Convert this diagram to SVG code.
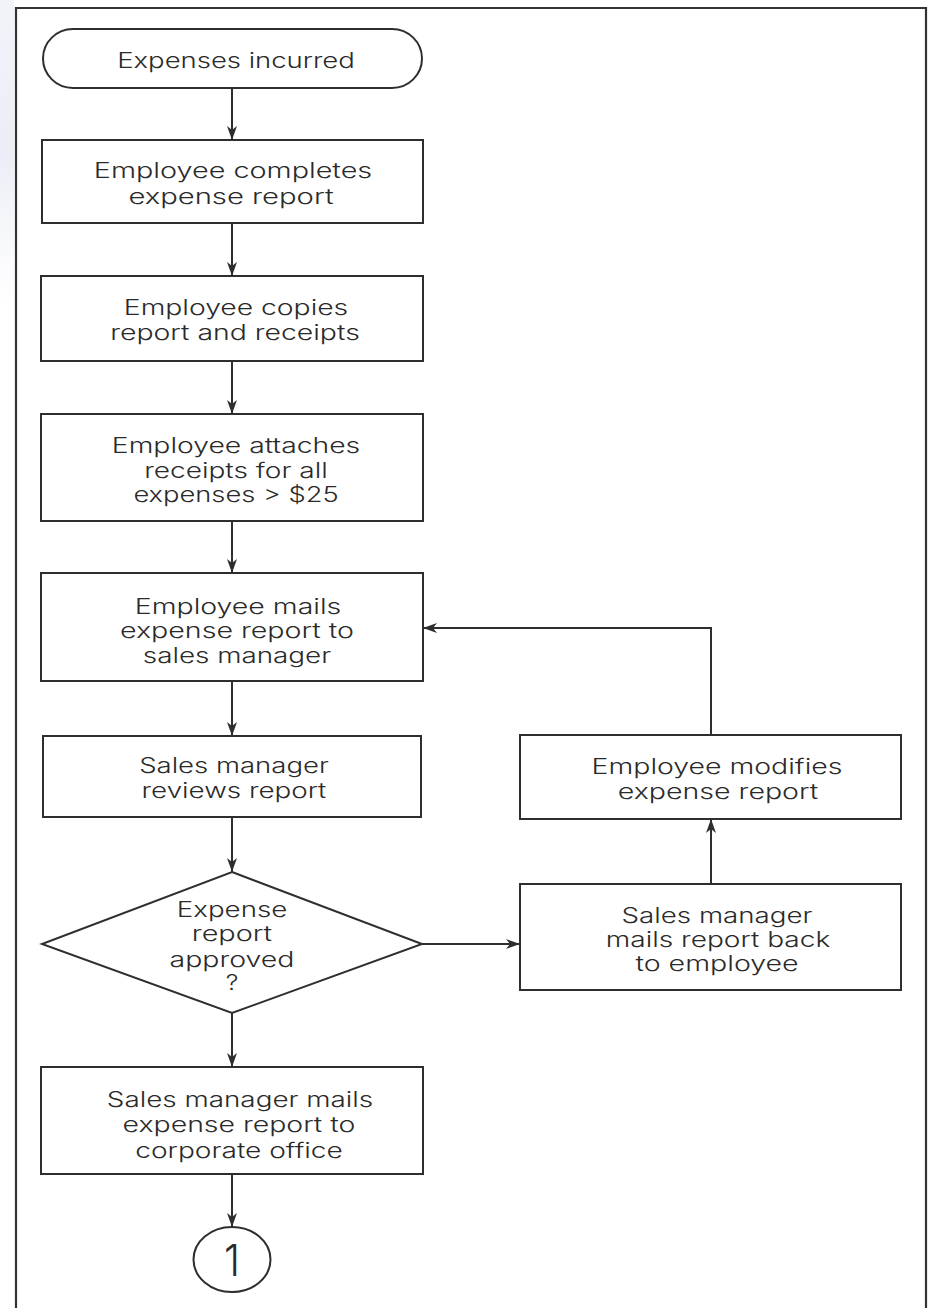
<svg xmlns="http://www.w3.org/2000/svg" width="936" height="1308" viewBox="0 0 936 1308">
  <style>
    .shape { fill: #ffffff; stroke: #2e2e2e; stroke-width: 2; }
    .wire { fill: none; stroke: #2e2e2e; stroke-width: 2; }
    .frame { fill: none; stroke: #333333; stroke-width: 2.2; }
    text { font-family: Inter, Lato, "Liberation Sans", sans-serif; font-weight: 300; font-size: 21px; fill: #2a2a2a; text-anchor: middle; }
    .big { font-size: 44px; font-weight: 300; }
  </style>
  <defs>
    <marker id="arrow" markerUnits="userSpaceOnUse" markerWidth="14" markerHeight="10" refX="14" refY="5" orient="auto">
      <path d="M0,0 L14,5 L0,10 L4,5 Z" fill="#2e2e2e"/>
    </marker>
    <linearGradient id="tint" x1="0" y1="0" x2="0" y2="1">
      <stop offset="0" stop-color="#e9ecf6" stop-opacity="0.6"/>
      <stop offset="0.5" stop-color="#e6e9f4" stop-opacity="0.8"/>
      <stop offset="1" stop-color="#eef0f6" stop-opacity="0"/>
    </linearGradient>
  </defs>

  <rect width="936" height="1308" fill="#ffffff"/>
  <!-- faint tint along the left margin -->
  <rect x="0" y="0" width="14" height="310" fill="url(#tint)"/>

  <!-- outer frame (open at the bottom) -->
  <path class="frame" d="M16,1312 V8 H926 V1312"/>

  <g id="connectors">
    <line class="wire" x1="232" y1="88" x2="232" y2="140" marker-end="url(#arrow)"/>
    <line class="wire" x1="232" y1="223" x2="232" y2="276" marker-end="url(#arrow)"/>
    <line class="wire" x1="232" y1="361" x2="232" y2="414" marker-end="url(#arrow)"/>
    <line class="wire" x1="232" y1="521" x2="232" y2="573" marker-end="url(#arrow)"/>
    <line class="wire" x1="232" y1="681" x2="232" y2="736" marker-end="url(#arrow)"/>
    <line class="wire" x1="232" y1="817" x2="232" y2="872" marker-end="url(#arrow)"/>
    <line class="wire" x1="232" y1="1013" x2="232" y2="1067" marker-end="url(#arrow)"/>
    <line class="wire" x1="232" y1="1174" x2="232" y2="1227" marker-end="url(#arrow)"/>
    <line class="wire" x1="422" y1="944" x2="520" y2="944" marker-end="url(#arrow)"/>
    <line class="wire" x1="711" y1="884" x2="711" y2="819" marker-end="url(#arrow)"/>
    <polyline class="wire" points="711,735 711,628 423,628" marker-end="url(#arrow)"/>
  </g>

  <!-- labels are widened 1.2x horizontally; textLength is in the unscaled units -->
  <g id="start">
    <rect class="shape" x="43" y="29" width="379" height="59" rx="30" ry="29.5"/>
    <text transform="translate(236,68) scale(1.2,1)" textLength="198" lengthAdjust="spacingAndGlyphs">Expenses incurred</text>
  </g>

  <g id="complete-report">
    <rect class="shape" x="42" y="140" width="381" height="83"/>
    <text transform="translate(233,178) scale(1.2,1)" textLength="232" lengthAdjust="spacingAndGlyphs">Employee completes</text>
    <text transform="translate(231,204) scale(1.2,1)" textLength="171" lengthAdjust="spacingAndGlyphs">expense report</text>
  </g>

  <g id="copy-report">
    <rect class="shape" x="41" y="276" width="382" height="85"/>
    <text transform="translate(236,315) scale(1.2,1)" textLength="187" lengthAdjust="spacingAndGlyphs">Employee copies</text>
    <text transform="translate(235,340) scale(1.2,1)" textLength="208" lengthAdjust="spacingAndGlyphs">report and receipts</text>
  </g>

  <g id="attach-receipts">
    <rect class="shape" x="41" y="414" width="382" height="107"/>
    <text transform="translate(236,453) scale(1.2,1)" textLength="207" lengthAdjust="spacingAndGlyphs">Employee attaches</text>
    <text transform="translate(236,478) scale(1.2,1)" textLength="153" lengthAdjust="spacingAndGlyphs">receipts for all</text>
    <text transform="translate(236,502) scale(1.2,1)" textLength="171" lengthAdjust="spacingAndGlyphs">expenses &gt; $25</text>
  </g>

  <g id="mail-to-manager">
    <rect class="shape" x="41" y="573" width="382" height="108"/>
    <text transform="translate(238,614) scale(1.2,1)" textLength="172" lengthAdjust="spacingAndGlyphs">Employee mails</text>
    <text transform="translate(237,638) scale(1.2,1)" textLength="195" lengthAdjust="spacingAndGlyphs">expense report to</text>
    <text transform="translate(237,663) scale(1.2,1)" textLength="157" lengthAdjust="spacingAndGlyphs">sales manager</text>
  </g>

  <g id="manager-review">
    <rect class="shape" x="43" y="736" width="378" height="81"/>
    <text transform="translate(234,773) scale(1.2,1)" textLength="158" lengthAdjust="spacingAndGlyphs">Sales manager</text>
    <text transform="translate(234,798) scale(1.2,1)" textLength="154" lengthAdjust="spacingAndGlyphs">reviews report</text>
  </g>

  <g id="approved-decision">
    <polygon class="shape" points="232,872 422,944 232,1013 42,944"/>
    <text transform="translate(232,917) scale(1.2,1)" textLength="92" lengthAdjust="spacingAndGlyphs">Expense</text>
    <text transform="translate(232,941) scale(1.2,1)" textLength="67" lengthAdjust="spacingAndGlyphs">report</text>
    <text transform="translate(232,967) scale(1.2,1)" textLength="104" lengthAdjust="spacingAndGlyphs">approved</text>
    <text transform="translate(232,990) scale(1.2,1)">?</text>
  </g>

  <g id="mail-to-office">
    <rect class="shape" x="41" y="1067" width="382" height="107"/>
    <text transform="translate(240,1107) scale(1.2,1)" textLength="222" lengthAdjust="spacingAndGlyphs">Sales manager mails</text>
    <text transform="translate(239,1132) scale(1.2,1)" textLength="194" lengthAdjust="spacingAndGlyphs">expense report to</text>
    <text transform="translate(239,1158) scale(1.2,1)" textLength="173" lengthAdjust="spacingAndGlyphs">corporate office</text>
  </g>

  <g id="connector-1">
    <ellipse class="shape" cx="232" cy="1259.5" rx="38.5" ry="32.5" stroke-width="1.6"/>
    <text class="big" x="232" y="1276" textLength="16" lengthAdjust="spacingAndGlyphs">1</text>
  </g>

  <g id="mail-back">
    <rect class="shape" x="520" y="884" width="381" height="106"/>
    <text transform="translate(717,923) scale(1.2,1)" textLength="159" lengthAdjust="spacingAndGlyphs">Sales manager</text>
    <text transform="translate(718,947) scale(1.2,1)" textLength="187" lengthAdjust="spacingAndGlyphs">mails report back</text>
    <text transform="translate(717,971) scale(1.2,1)" textLength="136" lengthAdjust="spacingAndGlyphs">to employee</text>
  </g>

  <g id="modify-report">
    <rect class="shape" x="520" y="735" width="381" height="84"/>
    <text transform="translate(717,774) scale(1.2,1)" textLength="209" lengthAdjust="spacingAndGlyphs">Employee modifies</text>
    <text transform="translate(718,799) scale(1.2,1)" textLength="167" lengthAdjust="spacingAndGlyphs">expense report</text>
  </g>
</svg>
